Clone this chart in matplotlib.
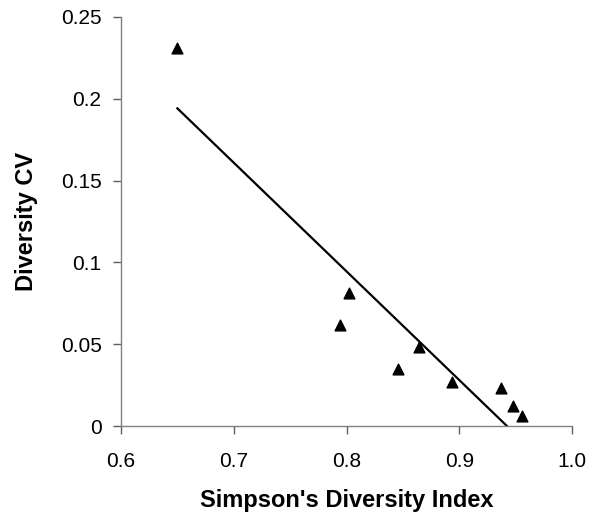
import numpy as np
import matplotlib
matplotlib.use("Agg")
import matplotlib.pyplot as plt

# Simpson's index vs diversity CV
simpson = [0.650, 0.794, 0.802, 0.846, 0.864, 0.894, 0.937, 0.948, 0.956]
div_cv = [0.231, 0.0616, 0.081, 0.0348, 0.048, 0.0266, 0.023, 0.0122, 0.0063]

x_ticks = [0.6, 0.7, 0.8, 0.9, 1.0]
x_labels = ["0.6", "0.7", "0.8", "0.9", "1.0"]
y_ticks = [0, 0.05, 0.1, 0.15, 0.2, 0.25]
y_labels = ["0", "0.05", "0.1", "0.15", "0.2", "0.25"]

plt.rcParams["font.family"] = ["Liberation Sans", "DejaVu Sans"]

fig = plt.figure(figsize=(6.02, 5.18), dpi=100)
ax = fig.add_axes([121 / 602, 92 / 518, 451 / 602, 409 / 518])

ax.scatter(simpson, div_cv, marker="^", s=60, color="black", zorder=3, clip_on=False)

# linear trend line
slope, icpt = np.polyfit(simpson, div_cv, 1)
xl = np.array([min(simpson), max(simpson)])
ax.plot(xl, slope * xl + icpt, color="black", lw=1.6)

ax.set_xlim(0.6, 1.0)
ax.set_ylim(0, 0.25)
ax.set_xticks(x_ticks)
ax.set_xticklabels(x_labels)
ax.set_yticks(y_ticks)
ax.set_yticklabels(y_labels)

for s in ["top", "right"]:
    ax.spines[s].set_visible(False)
for s in ["left", "bottom"]:
    ax.spines[s].set_color("#808080")
    ax.spines[s].set_linewidth(1.0)
ax.tick_params(direction="out", length=6, width=1.0, color="#606060",
               labelsize=15, labelcolor="black")
ax.tick_params(axis="x", pad=13)
ax.tick_params(axis="y", pad=8)

ax.set_xlabel("Simpson's Diversity Index", fontsize=17, fontweight="bold", labelpad=13)
ax.set_ylabel("Diversity CV", fontsize=17, fontweight="bold", labelpad=16)

fig.savefig("out.png", dpi=100)
